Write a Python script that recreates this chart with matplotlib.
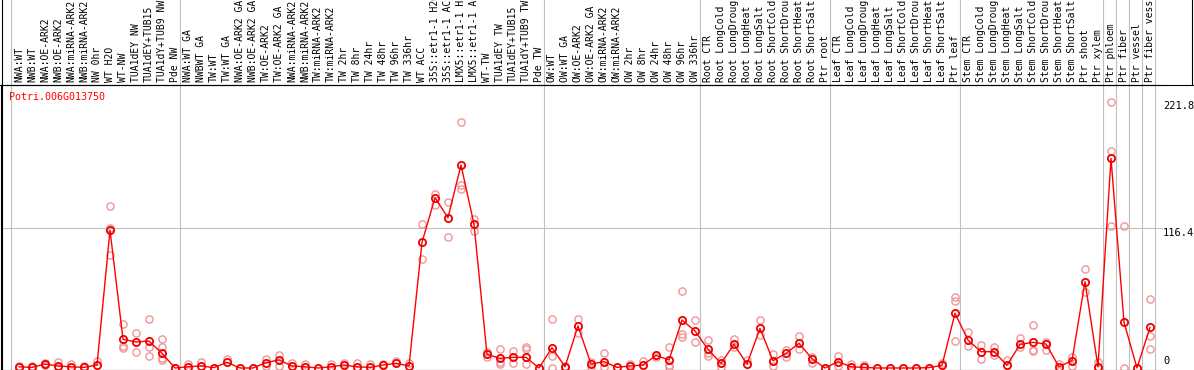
import matplotlib
matplotlib.use("Agg")
import matplotlib.pyplot as plt
from matplotlib.lines import Line2D
import matplotlib.transforms as mtransforms

gene = "Potri.006G013750"

labels = [
    "NWA:WT", "NWB:WT", "NWA:OE-ARK2", "NWB:OE-ARK2", "NWA:miRNA-ARK2", "NWB:miRNA-ARK2",
    "NW 0hr", "WT H2O", "WT-NW", "TUA1dEY NW", "TUA1dEY+TUB15", "TUA1dY+TUB9 NW", "Pde NW",
    "NWA:WT GA", "NWBWT GA", "TW:WT", "TW:WT GA", "NWA:OE-ARK2 GA", "NWB:OE-ARK2 GA",
    "TW:OE-ARK2", "TW:OE-ARK2 GA", "NWA:miRNA-ARK2", "NWB:miRNA-ARK2", "TW:miRNA-ARK2",
    "TW:miRNA-ARK2", "TW 2hr", "TW 8hr", "TW 24hr", "TW 48hr", "TW 96hr", "TW 336hr",
    "WT ACC", "35S::etr1-1 H2O", "35S::etr1-1 ACC", "LMX5::etr1-1 H2O", "LMX5::etr1-1 ACC",
    "WT-TW", "TUA1dEY TW", "TUA1dEY+TUB15", "TUA1dY+TUB9 TW", "Pde TW",
    "OW:WT", "OW:WT GA", "OW:OE-ARK2", "OW:OE-ARK2 GA", "OW:miRNA-ARK2", "OW:miRNA-ARK2",
    "OW 2hr", "OW 8hr", "OW 24hr", "OW 48hr", "OW 96hr", "OW 336hr",
    "Root CTR", "Root LongCold", "Root LongDrought", "Root LongHeat", "Root LongSalt",
    "Root ShortCold", "Root ShortDrought", "Root ShortHeat", "Root ShortSalt", "Ptr root",
    "Leaf CTR", "Leaf LongCold", "Leaf LongDrought", "Leaf LongHeat", "Leaf LongSalt",
    "Leaf ShortCold", "Leaf ShortDrought", "Leaf ShortHeat", "Leaf ShortSalt", "Ptr leaf",
    "Stem CTR", "Stem LongCold", "Stem LongDrought", "Stem LongHeat", "Stem LongSalt",
    "Stem ShortCold", "Stem ShortDrought", "Stem ShortHeat", "Stem ShortSalt",
    "Ptr shoot", "Ptr xylem", "Ptr phloem", "Ptr fiber", "Ptr vessel", "Ptr fiber vessel",
]

means = [
    1, 0.5, 3.3, 1.7, 1, 0.5, 2.5, 115, 24, 21.7, 22.5, 12.2, 0,
    1, 1.7, 0.3, 4.7, 0, 0, 4.5, 6.7, 1.7, 1, 0, 1, 2.5, 1, 0.5, 2.5, 3.9, 1.7,
    104.8, 142, 125.3, 169.3, 119.8, 11.4, 8, 8.9, 8.9, 0,
    17, 1, 35, 3.3, 5.3, 0.5, 1.7, 2.5, 10.5, 6.7, 40, 30.9,
    15.5, 3.9, 19.7, 3.3, 33, 6.1, 12.2, 20.6, 7.8, 0,
    5.3, 1, 0.5, 0, 0, 0, 0, 0.3, 2.2, 45.6,
    23.3, 13.6, 13.6, 2.2, 19.7, 21.4, 20, 1, 6.1, 72, 1,
    174.8, 38.1, 0, 33.9,
]

replicates = [
    [1, 1.5], [2], [4, 2.5], [5.3, 1], [3.5], [1.5], [6], [135, 117, 94],
    [36.7, 18.3, 16.4], [28.9, 13.3], [40.8, 17.2, 10], [23.9, 17.2, 8, 6.5], [0],
    [3], [5.3], [], [7.5], [], [], [7.5, 1.5], [10.8, 2], [4.5], [3.3], [], [3.3],
    [4.5], [4.5], [3.2], [3], [6], [4.5],
    [119.8, 90.6], [145, 136], [138.4, 109.2], [204.8, 153, 149], [124.2, 114.5],
    [13.3, 9.5], [16.1, 5.3, 3.3], [14.5, 4.5], [17.8, 15.5, 3.3], [],
    [40.8, 10.3, 0], [2], [40.8, 29.5], [5.3, 1], [12.2, 0.5], [], [3.3], [6], [9.5],
    [17.2, 2.5, 0.5], [64.2, 28.3, 25.6], [40, 21.4],
    [23.3, 12.2, 10], [6.7, 1], [24, 17.2], [6.7], [40, 27.5], [11.4, 1.7], [15, 9.5],
    [26.7, 16], [9.5, 3.9], [],
    [10, 1.7], [3.3], [2.2], [], [], [], [], [], [4.5], [59.5, 56.2, 22.5],
    [29.7, 18.3], [18.9, 7.8], [17.5, 11], [6.7], [24.7, 17.2], [35.8, 15, 14],
    [21.5, 15], [3.3], [8.9, 1.7], [82.3, 63.6], [5.3, 0],
    [221.8, 181, 118.4], [118.4, 0], [], [57.3, 26.9, 15.6],
]

group_starts = [0, 13, 41, 53, 63, 73, 84, 85, 86, 87, 88]
ytick_values = [221.8, 116.4, 0]

W, H = 1194, 370
fig = plt.figure(figsize=(W / 100, H / 100), dpi=100)
ax_left, ax_right, ax_top, ax_bottom = 1, 1160, 85, 369.5
ax = fig.add_axes([ax_left / W, (H - ax_bottom) / H,
                   (ax_right - ax_left) / W, (ax_bottom - ax_top) / H])

x = list(range(len(means)))
ax.set_xlim((ax_left - 19) / 13, (ax_right - 19) / 13)
yscale = 1.1993
ax.set_ylim(-(ax_bottom - 368) / yscale, (368 - ax_top) / yscale)

grey = "#c0c0c0"
axes_h = ax_bottom - ax_top
for s in group_starts:
    ax.axvline(s - 0.62, ymin=0, ymax=(ax_bottom) / axes_h + 0.01,
               color=grey, lw=0.8, clip_on=False, zorder=0.5)
ax.axhline(ytick_values[1], xmin=0, xmax=(1162 - ax_left) / (ax_right - ax_left),
           color=grey, lw=0.8, clip_on=False, zorder=0.5)

rx, ry = [], []
for i, reps in enumerate(replicates):
    for v in reps:
        rx.append(i)
        ry.append(v)
ax.plot(rx, ry, linestyle="none", marker="o", markersize=5.2,
        markerfacecolor="none", markeredgecolor="#f09696", markeredgewidth=1.0,
        zorder=2, clip_on=False)
ax.plot(x, means, color="#ff0000", lw=1.0, marker="o", markersize=5.2,
        markerfacecolor="none", markeredgecolor="#ee0000", markeredgewidth=1.3,
        zorder=3, clip_on=False)

for sp in ["right"]:
    ax.spines[sp].set_visible(False)
for sp in ["left", "bottom", "top"]:
    ax.spines[sp].set_color("black")
    ax.spines[sp].set_linewidth(0.8)
ax.set_xticks([])
ax.set_yticks([])
ax.patch.set_alpha(0)

mono = "DejaVu Sans Mono"
trans = mtransforms.blended_transform_factory(ax.transData, ax.transAxes)
for i, lab in enumerate(labels):
    ax.text(i, 1 + 2.5 / axes_h, lab, rotation=90, ha="center", va="bottom",
            family=mono, fontsize=7, color="black", transform=trans, clip_on=False)

ytrans = mtransforms.blended_transform_factory(ax.transAxes, ax.transData)
xt = (1163 - ax_left) / (ax_right - ax_left)
ax.text(xt, ytick_values[0] + 1, f"{ytick_values[0]:g}", ha="left", va="top",
        family=mono, fontsize=7.5, transform=ytrans, clip_on=False)
ax.text(xt, ytick_values[1], f"{ytick_values[1]:g}", ha="left", va="top",
        family=mono, fontsize=7.5, transform=ytrans, clip_on=False)
ax.text(xt, 1.5, f"{ytick_values[2]:g}", ha="left", va="bottom",
        family=mono, fontsize=7.5, transform=ytrans, clip_on=False)

fig.text(9 / W, 1 - 92 / H, gene, color="red", family=mono, fontsize=7.2,
         ha="left", va="top")

# frame lines of the label area
yl = 1 - 85 / H
fig.add_artist(Line2D([0, 1], [yl, yl], color="black", lw=0.8, transform=fig.transFigure))
fig.add_artist(Line2D([1.5 / W, 1.5 / W], [0, 1], color="black", lw=0.8, transform=fig.transFigure))
fig.add_artist(Line2D([1192 / W, 1192 / W], [yl, 1], color="black", lw=0.8, transform=fig.transFigure))

fig.savefig("out.png", dpi=100, facecolor="white")
